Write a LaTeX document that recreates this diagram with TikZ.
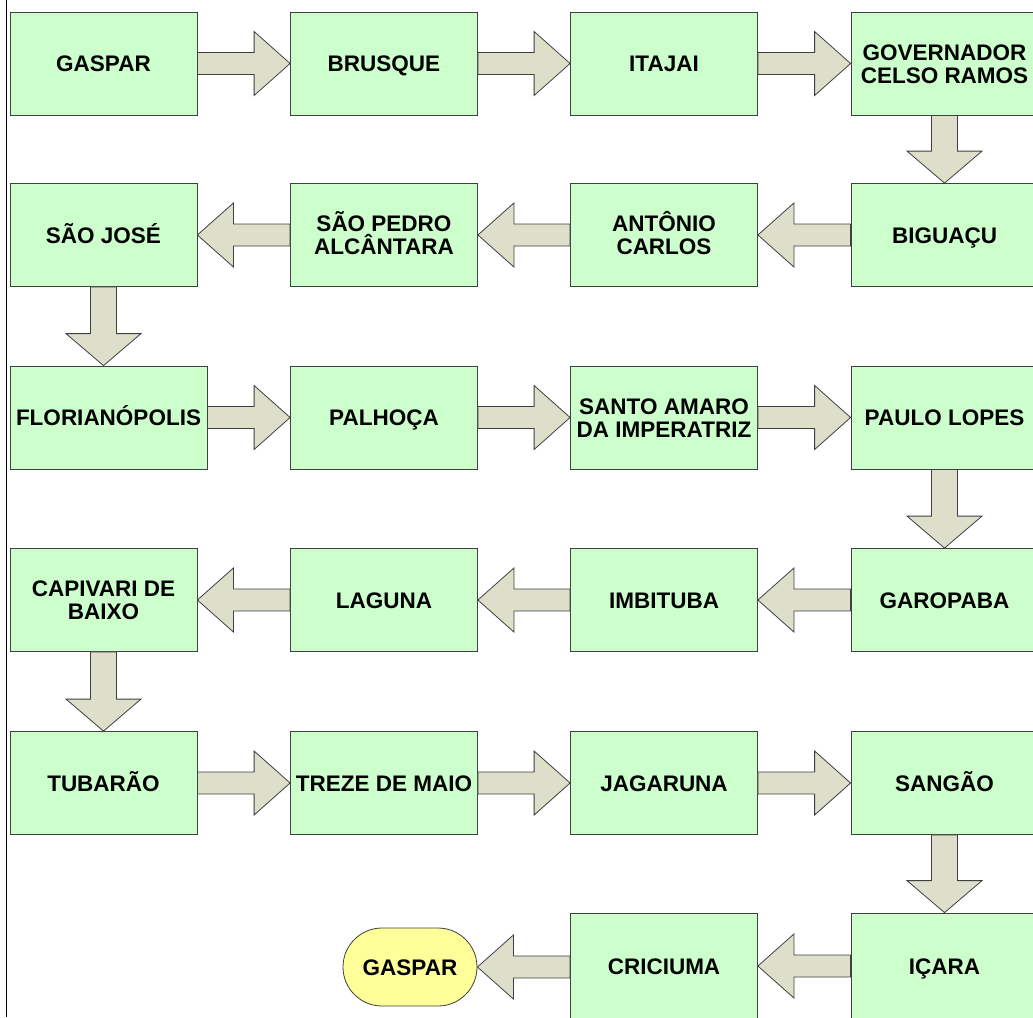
\documentclass[tikz,border=0pt]{standalone}
\usepackage{fontspec}
\setmainfont{Liberation Sans}
\usetikzlibrary{calc}
\definecolor{boxfill}{HTML}{CCFFCC}
\definecolor{arrfill}{HTML}{DDDFCB}
\definecolor{edge}{HTML}{404040}
\definecolor{ovalfill}{HTML}{FFFF99}
\newcommand\twol[2]{\vtop{\lineskiplimit=-100pt\baselineskip=23pt\halign{\hfil##\hfil\cr#1\cr#2\cr}}}
\newcommand\arrR[2]{%
  \draw[blockarr] ($(#1.east |- #2.west)+(0,11)$) -- ($(#2.west)+(-36,11)$) -- ($(#2.west)+(-36,32)$) -- (#2.west)
    -- ($(#2.west)+(-36,-32)$) -- ($(#2.west)+(-36,-11)$) -- ($(#1.east |- #2.west)+(0,-11)$) -- cycle;}
\newcommand\arrL[2]{%
  \draw[blockarr] ($(#1.west |- #2.east)+(0,11)$) -- ($(#2.east)+(36,11)$) -- ($(#2.east)+(36,32)$) -- (#2.east)
    -- ($(#2.east)+(36,-32)$) -- ($(#2.east)+(36,-11)$) -- ($(#1.west |- #2.east)+(0,-11)$) -- cycle;}
\newcommand\arrD[2]{%
  \draw[blockarr] ($(#1.south)+(13,0)$) -- ($(#1.south |- #2.north)+(13,-32)$) -- ($(#1.south |- #2.north)+(37.5,-32)$) -- (#1.south |- #2.north)
    -- ($(#1.south |- #2.north)+(-37.5,-32)$) -- ($(#1.south |- #2.north)+(-13,-32)$) -- ($(#1.south)+(-13,0)$) -- cycle;}
\begin{document}
\begin{tikzpicture}[x=1pt,y=-1pt,
  city/.style={draw=edge, fill=boxfill, line width=0.8pt, minimum width=187pt, minimum height=103pt,
    inner sep=0pt, text height=16.1pt, text depth=0pt, font=\fontsize{22.5}{23}\selectfont\bfseries},
  two/.style={text depth=23pt},
  blockarr/.style={draw=edge, fill=arrfill, line width=0.8pt, line join=miter},
  oval/.style={draw=edge, fill=ovalfill, line width=0.8pt, minimum width=134pt, minimum height=78pt,
    rounded corners=39pt, inner sep=0pt, text height=16.1pt, text depth=0pt, font=\fontsize{22.5}{23}\selectfont\bfseries}]
\useasboundingbox (0,0) rectangle (1033,1017);
\fill[white] (0,0) rectangle (1033,1017);
\draw[line width=1.5pt] (6.5,0) coordinate (lt) -- (6.5,1017) coordinate (lb);
% row 1
\node[city] (a1) at (103.5,63.5) {GASPAR};
\node[city] (a2) at (384,63.5) {BRUSQUE};
\node[city] (a3) at (664,63.5) {ITAJAI};
\node[city,two] (a4) at (944.5,63.5) {\twol{GOVERNADOR}{CELSO RAMOS}};
% row 2
\node[city] (b4) at (944.5,235) {BIGUAÇU};
\node[city,two] (b3) at (664,235) {\twol{ANTÔNIO}{CARLOS}};
\node[city,two] (b2) at (384,235) {\twol{SÃO PEDRO}{ALCÂNTARA}};
\node[city] (b1) at (103.5,235) {SÃO JOSÉ};
% row 3
\node[city, minimum width=197pt] (c1) at (108.5,417.5) {FLORIANÓPOLIS};
\node[city] (c2) at (384,417.5) {PALHOÇA};
\node[city,two] (c3) at (664,417.5) {\twol{SANTO AMARO}{DA IMPERATRIZ}};
\node[city] (c4) at (944.5,417.5) {PAULO LOPES};
% row 4
\node[city] (d4) at (944.5,600) {GAROPABA};
\node[city] (d3) at (664,600) {IMBITUBA};
\node[city] (d2) at (384,600) {LAGUNA};
\node[city,two] (d1) at (103.5,600) {\twol{CAPIVARI DE}{BAIXO}};
% row 5
\node[city] (e1) at (103.5,783) {TUBARÃO};
\node[city] (e2) at (384,783) {TREZE DE MAIO};
\node[city] (e3) at (664,783) {JAGARUNA};
\node[city] (e4) at (944.5,783) {SANGÃO};
% row 6
\node[city, minimum height=106pt] (f4) at (944.5,966) {IÇARA};
\node[city, minimum height=106pt] (f3) at (664,966) {CRICIUMA};
\node[oval] (f2) at (410,967) {GASPAR};
% arrows
\arrR{a1}{a2} \arrR{a2}{a3} \arrR{a3}{a4}
\arrD{a4}{b4}
\arrL{b4}{b3} \arrL{b3}{b2} \arrL{b2}{b1}
\arrD{b1}{c1}
\arrR{c1}{c2} \arrR{c2}{c3} \arrR{c3}{c4}
\arrD{c4}{d4}
\arrL{d4}{d3} \arrL{d3}{d2} \arrL{d2}{d1}
\arrD{d1}{e1}
\arrR{e1}{e2} \arrR{e2}{e3} \arrR{e3}{e4}
\arrD{e4}{f4}
\arrL{f4}{f3} \arrL{f3}{f2}
\end{tikzpicture}
\end{document}
